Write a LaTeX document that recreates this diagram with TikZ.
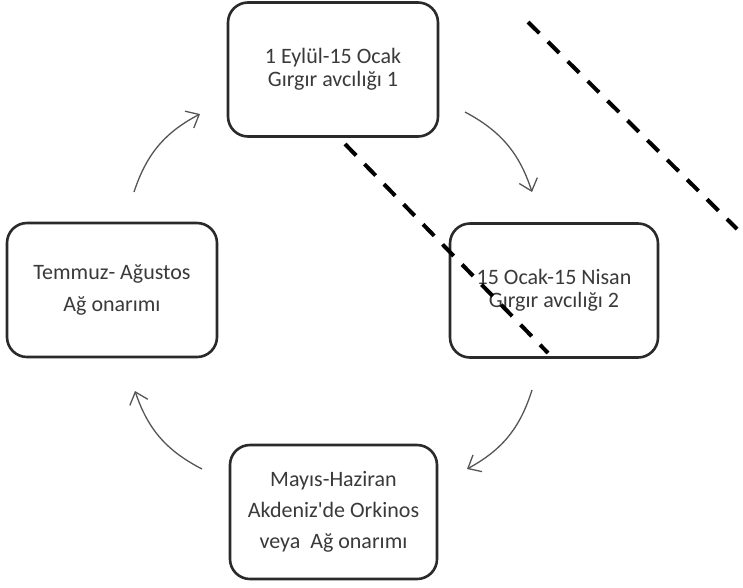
\documentclass[tikz,border=0pt]{standalone}
\usepackage{fontspec}
\setmainfont{Carlito}
\usetikzlibrary{arrows.meta}
\definecolor{boxline}{HTML}{2A2A2A}
\definecolor{txt}{HTML}{3A3A3A}
\definecolor{arr}{HTML}{555555}
\tikzset{
  stage/.style={draw=boxline, line width=2.6pt, rounded corners=20pt, fill=white,
    minimum width=#1, minimum height=134pt, align=center, text=txt,
    font=\fontsize{22pt}{23pt}\selectfont, inner sep=0pt},
  cyc/.style={draw=arr, line width=1.3pt, -{Straight Barb[length=11pt,width=19pt,line width=1.3pt]}},
  cutline/.style={draw=black, line width=4pt, dash pattern=on 16pt off 12pt}
}
\begin{document}
\begin{tikzpicture}[x=1pt,y=-1pt]
\useasboundingbox (0,0) rectangle (743,587);
\node[stage=210pt] (top) at (333,69.5) {1 Eylül-15 Ocak\\Gırgır avcılığı 1};
\node[stage=208pt] (right) at (554,290.5) {15 Ocak-15 Nisan\\Gırgır avcılığı 2};
\node[stage=210pt] (left) at (112,290) {Temmuz- Ağustos\\[9pt]Ağ onarımı};
\node[stage=207pt] (bottom) at (333.5,512) {Mayıs-Haziran\\[8pt]Akdeniz\textquotesingle de Orkinos\\[8pt]veya\ \ Ağ onarımı};
\coordinate (a1s) at (465,112);
\coordinate (a1e) at (532,192);
\coordinate (a2s) at (532,390);
\coordinate (a2e) at (467,469);
\coordinate (a3s) at (202,469);
\coordinate (a3e) at (135,391);
\coordinate (a4s) at (134,192);
\coordinate (a4e) at (200,114);
\draw[cyc] (a1s) to[bend left=22] (a1e);
\draw[cyc] (a2s) to[bend left=22] (a2e);
\draw[cyc] (a3s) to[bend left=22] (a3e);
\draw[cyc] (a4s) to[bend left=22] (a4e);
\draw[cutline] (345,144) -- (548,353);
\draw[cutline] (528,22) -- (737,229);
\end{tikzpicture}
\end{document}
